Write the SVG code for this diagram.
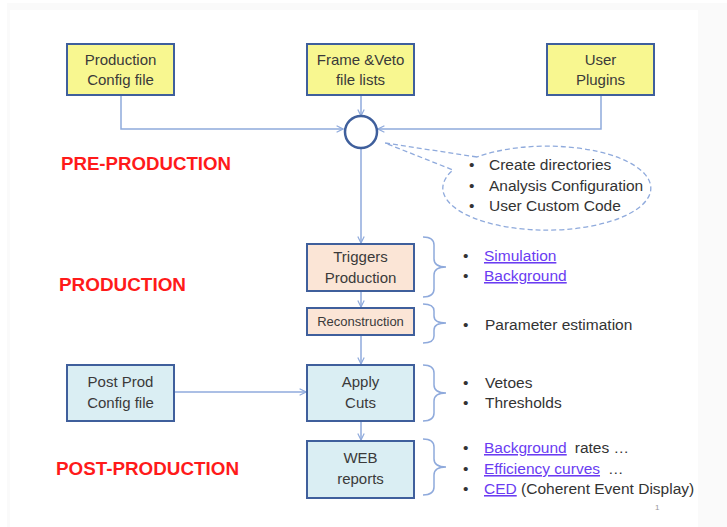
<svg xmlns="http://www.w3.org/2000/svg" width="727" height="527" viewBox="0 0 727 527">
<defs>
<marker id="arr" viewBox="0 0 10 10" refX="9" refY="5" markerWidth="8" markerHeight="8" markerUnits="userSpaceOnUse" orient="auto">
<path d="M1,1 L9,5 L1,9" fill="none" stroke="#8faadc" stroke-width="1.5"/>
</marker>
</defs>
<style>
.bx{stroke:#3f5f9c;stroke-width:2}
.yl{fill:#f8f790}
.pc{fill:#fbe5d6}
.lb{fill:#daeef3}
.t{font-family:"Liberation Sans",Arial,sans-serif;font-size:15px;fill:#3a3a3a;text-anchor:middle}
.b{font-family:"Liberation Sans",Arial,sans-serif;font-size:15.5px;fill:#333333}
.lk{fill:#6a3cf2;text-decoration:underline}
.ph{font-family:"Liberation Sans",Arial,sans-serif;font-size:18.5px;font-weight:bold;fill:#ff1a1a}
.cn{fill:none;stroke:#8faadc;stroke-width:1.5}
.br{fill:none;stroke:#8faadc;stroke-width:1.5}
</style>
<rect x="0" y="0" width="727" height="527" fill="#ffffff"/>
<rect x="7" y="3" width="720" height="524" fill="#fafafa"/>
<rect x="10" y="10" width="688" height="517" fill="#ffffff"/>

<g id="connectors">
<path class="cn" d="M121,95 V129 H343" marker-end="url(#arr)"/>
<path class="cn" d="M601,95 V129 H378" marker-end="url(#arr)"/>
<path class="cn" d="M361,95 V116" marker-end="url(#arr)"/>
<path class="cn" d="M361,148 V243" marker-end="url(#arr)"/>
<path class="cn" d="M361,291 V307" marker-end="url(#arr)"/>
<path class="cn" d="M361,335 V364" marker-end="url(#arr)"/>
<path class="cn" d="M174,392 H306" marker-end="url(#arr)"/>
<path class="cn" d="M361,421 V440" marker-end="url(#arr)"/>
</g>

<g id="prod-config">
<rect class="bx yl" x="67" y="44" width="107" height="51"/>
<text class="t" x="120.5" y="65">Production</text>
<text class="t" x="120.5" y="85">Config file</text>
</g>
<g id="frame-veto">
<rect class="bx yl" x="307" y="44" width="107" height="51"/>
<text class="t" x="360.5" y="65">Frame &amp;Veto</text>
<text class="t" x="360.5" y="85">file lists</text>
</g>
<g id="user-plugins">
<rect class="bx yl" x="547" y="44" width="107" height="51"/>
<text class="t" x="600.5" y="65">User</text>
<text class="t" x="600.5" y="85">Plugins</text>
</g>
<g id="junction">
<circle cx="361" cy="132" r="16" fill="#ffffff" stroke="#3f5f9c" stroke-width="2.5"/>
</g>
<g id="callout">
<path d="M477,157 L385,143 L453,170 A104 42 0 1 0 477 157 Z" fill="#ffffff" stroke="#8faadc" stroke-width="1.3" stroke-dasharray="5 3"/>
<text class="b" x="469" y="170">•</text><text class="b" x="489" y="170">Create directories</text>
<text class="b" x="469" y="191">•</text><text class="b" x="489" y="191">Analysis Configuration</text>
<text class="b" x="469" y="211">•</text><text class="b" x="489" y="211">User Custom Code</text>
</g>

<g id="phase-labels">
<text class="ph" x="61" y="170" textLength="170" lengthAdjust="spacingAndGlyphs">PRE-PRODUCTION</text>
<text class="ph" x="59" y="291" textLength="127" lengthAdjust="spacingAndGlyphs">PRODUCTION</text>
<text class="ph" x="56" y="475" textLength="183" lengthAdjust="spacingAndGlyphs">POST-PRODUCTION</text>
</g>

<g id="triggers">
<rect class="bx pc" x="307" y="244" width="107" height="47"/>
<text class="t" x="360.5" y="262">Triggers</text>
<text class="t" x="360.5" y="283">Production</text>
</g>
<g id="reconstruction">
<rect class="bx pc" x="307" y="308" width="107" height="27"/>
<text class="t" x="360.5" y="326" style="font-size:13px">Reconstruction</text>
</g>
<g id="post-config">
<rect class="bx lb" x="67" y="365" width="107" height="56"/>
<text class="t" x="120.5" y="387">Post Prod</text>
<text class="t" x="120.5" y="408">Config file</text>
</g>
<g id="apply-cuts">
<rect class="bx lb" x="307" y="365" width="107" height="56"/>
<text class="t" x="360.5" y="387">Apply</text>
<text class="t" x="360.5" y="408">Cuts</text>
</g>
<g id="web-reports">
<rect class="bx lb" x="307" y="441" width="107" height="57"/>
<text class="t" x="360.5" y="463">WEB</text>
<text class="t" x="360.5" y="484">reports</text>
</g>

<g id="braces">
<path class="br" d="M423,237 Q434,237 434,245 V259 Q434,267 446,267 Q434,267 434,275 V289 Q434,297 423,297"/>
<path class="br" d="M423,304 Q434,304 434,311 V316 Q434,323 446,323 Q434,323 434,330 V336 Q434,343 423,343"/>
<path class="br" d="M423,365 Q434,365 434,373 V385 Q434,393 446,393 Q434,393 434,401 V413 Q434,421 423,421"/>
<path class="br" d="M423,439 Q434,439 434,447 V459 Q434,467 446,467 Q434,467 434,475 V487 Q434,495 423,495"/>
</g>

<g id="notes">
<text class="b" x="463" y="261">•</text><text class="b lk" x="484" y="261">Simulation</text>
<text class="b" x="463" y="281">•</text><text class="b lk" x="484" y="281">Background</text>
<text class="b" x="463" y="330">•</text><text class="b" x="485" y="330">Parameter estimation</text>
<text class="b" x="463" y="388">•</text><text class="b" x="485" y="388">Vetoes</text>
<text class="b" x="463" y="408">•</text><text class="b" x="485" y="408">Thresholds</text>
<text class="b" x="463" y="453">•</text><text class="b" x="484" y="453"><tspan class="lk">Background</tspan><tspan dx="8">rates …</tspan></text>
<text class="b" x="463" y="474">•</text><text class="b" x="484" y="474"><tspan class="lk">Efficiency curves</tspan><tspan dx="8">…</tspan></text>
<text class="b" x="463" y="494">•</text><text class="b" x="484" y="494"><tspan class="lk">CED</tspan> (Coherent Event Display)</text>
<text x="655" y="510" style="font-family:'Liberation Sans',Arial,sans-serif;font-size:8px;fill:#999999">1</text>
</g>
</svg>
